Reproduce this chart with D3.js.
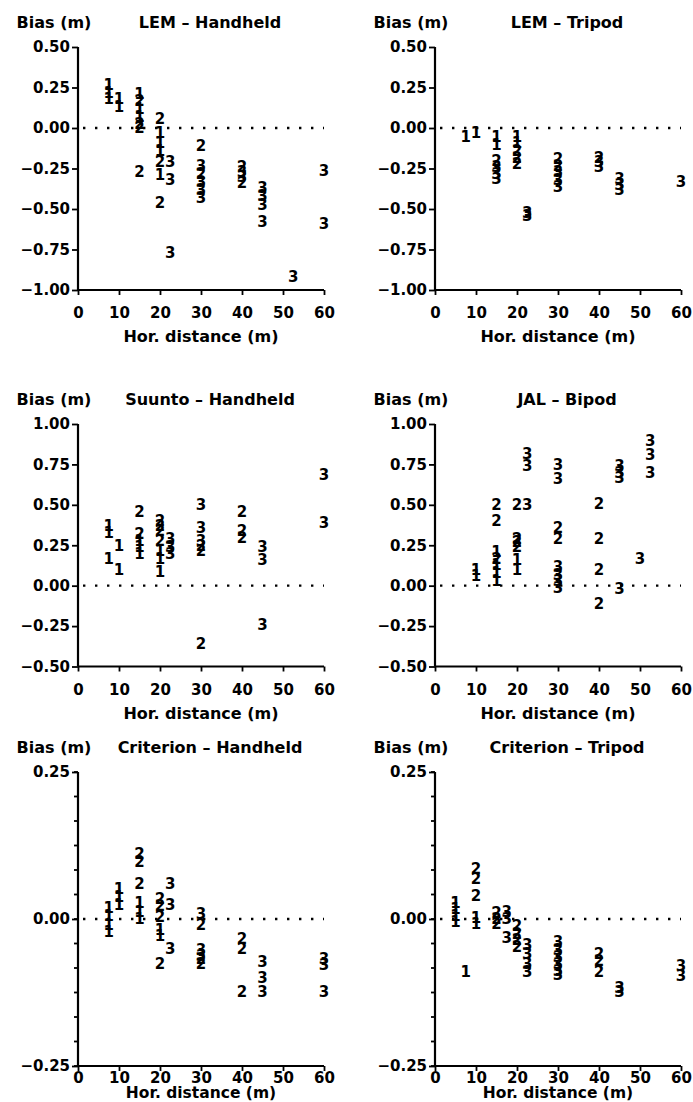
<!DOCTYPE html>
<html><head><meta charset="utf-8">
<script src="https://cdn.jsdelivr.net/npm/d3@7"></script>
<style>
body{margin:0;background:#fff}
svg text{font-family:"DejaVu Sans",sans-serif;font-weight:bold;fill:#000}
</style>
</head><body>
<svg id="chart" width="693" height="1102"></svg>
<script>
// ---------- data ----------
const xTicks = [0, 10, 20, 30, 40, 50, 60];
const yTicksTop = [0.5, 0.25, 0, -0.25, -0.5, -0.75, -1];
const yTicksMid = [1, 0.75, 0.5, 0.25, 0, -0.25, -0.5];
const yTicksBot = [0.25, 0, -0.25];
const titles = ["LEM \u2013 Handheld", "LEM \u2013 Tripod", "Suunto \u2013 Handheld",
                "JAL \u2013 Bipod", "Criterion \u2013 Handheld", "Criterion \u2013 Tripod"];
// [horizontal distance (m), bias (m), code]
const lemHandheld = [
  [7.5,0.27,1],[7.5,0.22,1],[7.5,0.18,1],
  [10,0.18,1],[10,0.13,1],
  [15,0.21,1],[15,0.17,2],[15,0.12,1],[15,0.07,1],[15,0.03,2],[15,0.0,2],[15,-0.27,2],
  [20,0.06,2],[20,-0.03,1],[20,-0.09,1],[20,-0.14,1],[20,-0.21,2],[20,-0.29,1],[20,-0.46,2],
  [22.5,-0.21,3],[22.5,-0.32,3],[22.5,-0.77,3],
  [30,-0.11,2],[30,-0.23,3],[30,-0.28,2],[30,-0.33,3],[30,-0.38,3],[30,-0.43,3],
  [40,-0.24,2],[40,-0.27,3],[40,-0.30,3],[40,-0.34,2],
  [45,-0.37,3],[45,-0.42,3],[45,-0.47,3],[45,-0.58,3],
  [52.5,-0.92,3],
  [60,-0.26,3],[60,-0.59,3]
];
const lemTripod = [
  [7.5,-0.05,1],[10,-0.03,1],
  [15,-0.05,1],[15,-0.10,1],[15,-0.20,2],[15,-0.24,3],[15,-0.28,3],[15,-0.31,3],
  [20,-0.05,1],[20,-0.09,1],[20,-0.14,2],[20,-0.18,2],[20,-0.22,2],
  [22.5,-0.52,3],[22.5,-0.54,3],
  [30,-0.19,2],[30,-0.23,2],[30,-0.27,3],[30,-0.32,3],[30,-0.36,3],
  [40,-0.18,2],[40,-0.21,3],[40,-0.24,3],
  [45,-0.31,3],[45,-0.35,3],[45,-0.38,3],
  [60,-0.33,3]
];
const suuntoHandheld = [
  [7.5,0.37,1],[7.5,0.33,1],[7.5,0.17,1],
  [10,0.25,1],[10,0.10,1],
  [15,0.46,2],[15,0.32,2],[15,0.28,1],[15,0.24,1],[15,0.20,1],
  [20,0.40,2],[20,0.37,2],[20,0.34,2],[20,0.28,2],[20,0.22,1],[20,0.17,1],[20,0.09,1],
  [22.5,0.29,3],[22.5,0.24,3],[22.5,0.20,3],
  [30,0.50,3],[30,0.36,3],[30,0.28,3],[30,0.25,2],[30,0.22,2],[30,-0.36,2],
  [40,0.46,2],[40,0.34,2],[40,0.30,2],
  [45,0.24,3],[45,0.16,3],[45,-0.24,3],
  [60,0.69,3],[60,0.39,3]
];
const jalBipod = [
  [10,0.10,1],[10,0.06,1],
  [15,0.50,2],[15,0.40,2],[15,0.21,1],[15,0.17,2],[15,0.13,1],[15,0.08,1],[15,0.03,1],
  [20,0.50,2],[20,0.29,2],[20,0.27,2],[20,0.24,2],[20,0.16,1],[20,0.10,1],
  [22.5,0.82,3],[22.5,0.74,3],[22.5,0.50,3],
  [30,0.75,3],[30,0.66,3],[30,0.36,2],[30,0.29,2],[30,0.12,3],[30,0.07,3],[30,0.03,3],[30,-0.01,3],
  [40,0.51,2],[40,0.29,2],[40,0.10,2],[40,-0.11,2],
  [45,0.74,3],[45,0.70,3],[45,0.67,3],[45,-0.02,3],
  [50,0.17,3],
  [52.5,0.90,3],[52.5,0.81,3],[52.5,0.70,3]
];
const criterionHandheld = [
  [7.5,0.02,1],[7.5,0.005,1],[7.5,-0.01,1],[7.5,-0.022,1],
  [10,0.052,1],[10,0.038,1],[10,0.024,1],
  [15,0.112,2],[15,0.097,2],[15,0.060,2],[15,0.028,1],[15,0.012,1],[15,0.0,1],
  [20,0.035,2],[20,0.022,2],[20,0.004,2],[20,-0.018,1],[20,-0.028,1],[20,-0.075,2],
  [22.5,0.06,3],[22.5,0.025,3],[22.5,-0.05,3],
  [30,0.01,3],[30,-0.01,2],[30,-0.052,3],[30,-0.062,3],[30,-0.068,2],[30,-0.075,2],
  [40,-0.033,2],[40,-0.050,2],[40,-0.123,2],
  [45,-0.072,3],[45,-0.100,3],[45,-0.123,3],
  [60,-0.068,3],[60,-0.078,3],[60,-0.123,3]
];
const criterionTripod = [
  [5,0.028,1],[5,0.017,1],[5,0.006,1],[5,-0.005,1],
  [7.5,-0.09,1],
  [10,0.085,2],[10,0.068,2],[10,0.040,2],[10,0.003,1],[10,-0.008,1],
  [15,0.011,2],[15,0.0,2],[15,-0.008,2],
  [17.5,0.012,3],[17.5,0.0,3],[17.5,-0.031,3],
  [20,-0.011,2],[20,-0.024,2],[20,-0.035,2],[20,-0.047,2],
  [22.5,-0.044,3],[22.5,-0.058,3],[22.5,-0.075,3],[22.5,-0.089,3],
  [30,-0.038,3],[30,-0.052,3],[30,-0.064,3],[30,-0.075,3],[30,-0.087,3],[30,-0.095,3],
  [40,-0.059,2],[40,-0.070,2],[40,-0.089,2],
  [45,-0.117,3],[45,-0.123,3],
  [60,-0.080,3],[60,-0.097,3]
];

// ---------- layout ----------
const svg = d3.select("#chart");
svg.append("rect").attr("width",693).attr("height",1102).attr("fill","#fff");
const colX = [78, 435];
const xWidth = 246;
const rows = [
  {top:47, bottom:290, domain:[-1,0.5], ticks:yTicksTop, minor:null, tickBase:28, labBase:52, labSize:16},
  {top:424, bottom:666.5, domain:[-0.5,1], ticks:yTicksMid, minor:null, tickBase:28, labBase:52, labSize:16},
  {top:772, bottom:1066, domain:[-0.25,0.25], ticks:yTicksBot, minor:6, tickBase:17, labBase:32, labSize:15.5}
];
const datasets = [lemHandheld, lemTripod, suuntoHandheld, jalBipod, criterionHandheld, criterionTripod];
const fmt = v => (v < 0 ? "\u2212" : "") + Math.abs(v).toFixed(2);

datasets.forEach((data, i) => {
  const row = rows[Math.floor(i/2)];
  const x0 = colX[i % 2];
  const x = d3.scaleLinear().domain([0,60]).range([x0, x0 + xWidth]);
  const y = d3.scaleLinear().domain(row.domain).range([row.bottom, row.top]);
  const g = svg.append("g");

  // y axis
  const yAxis = d3.axisLeft(y).tickValues(row.ticks).tickFormat(fmt).tickSize(6).tickPadding(2);
  const ya = g.append("g").attr("transform", `translate(${x0},0)`).call(yAxis);
  ya.select(".domain").attr("stroke","#000").attr("stroke-width",2.2).attr("d",`M0,${row.top}V${row.bottom}`);
  ya.selectAll(".tick line").attr("stroke","#000").attr("stroke-width",1.8);
  ya.selectAll(".tick text").attr("font-size",15).attr("font-family","DejaVu Sans").attr("font-weight","bold").attr("fill","#000");
  if (row.minor) {
    const step = (row.domain[1]-row.domain[0]) / (2*row.minor);
    const minorVals = d3.range(row.domain[0], row.domain[1] + step/2, step);
    g.selectAll(".minor").data(minorVals).join("line")
      .attr("x1", x0-4).attr("x2", x0).attr("y1", d => y(d)).attr("y2", d => y(d))
      .attr("stroke","#000").attr("stroke-width",1.8);
  }

  // x axis
  const xAxis = d3.axisBottom(x).tickValues(xTicks).tickFormat(d3.format("d")).tickSize(5).tickPadding(0);
  const xa = g.append("g").attr("transform", `translate(0,${row.bottom})`).call(xAxis);
  xa.select(".domain").attr("stroke","#000").attr("stroke-width",2.2).attr("d",`M${x0},0H${x0+xWidth}`);
  xa.selectAll(".tick line").attr("stroke","#000").attr("stroke-width",1.8);
  xa.selectAll(".tick text").attr("font-size",15).attr("font-family","DejaVu Sans").attr("font-weight","bold").attr("fill","#000")
    .attr("y", row.tickBase).attr("dy", 0);

  // zero dotted line
  g.append("line").attr("x1", x(0)+5).attr("x2", x(60)).attr("y1", y(0)).attr("y2", y(0))
    .attr("stroke","#000").attr("stroke-width",2.4).attr("stroke-dasharray","2.4 9.6");

  // labels
  g.append("text").attr("x", x0-24).attr("y", row.top-19).attr("text-anchor","middle")
    .attr("font-size",16).text("Bias (m)");
  g.append("text").attr("x", x0+132).attr("y", row.top-19).attr("text-anchor","middle")
    .attr("font-size",16).text(titles[i]);
  g.append("text").attr("x", x(30)).attr("y", row.bottom + row.labBase).attr("text-anchor","middle")
    .attr("font-size",row.labSize).text("Hor. distance (m)");

  // data markers
  g.selectAll(".pt").data(data).join("text")
    .attr("x", d => x(d[0])).attr("y", d => y(d[1]))
    .attr("text-anchor","middle").attr("dy","0.36em")
    .attr("font-size",15).text(d => d[2]);
});
</script>
</body></html>
